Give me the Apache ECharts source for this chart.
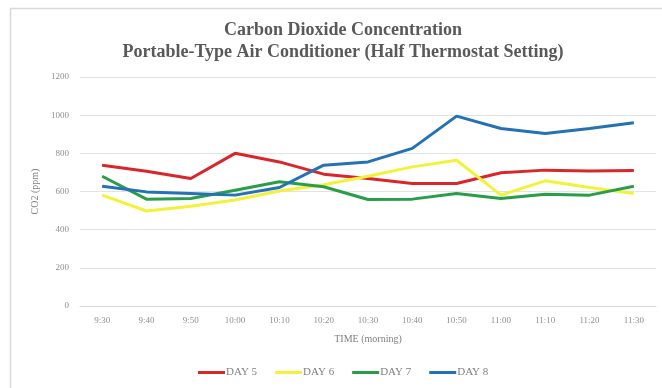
<!DOCTYPE html>
<html>
<head>
<meta charset="utf-8">
<script src="https://cdn.jsdelivr.net/npm/echarts@6/dist/echarts.min.js"></script>
<style>
  html, body { margin: 0; padding: 0; background: #fff; }
  #main { width: 662px; height: 388px; }
</style>
</head>
<body>
<div id="main"></div>
<script>
const times = ['9:30', '9:40', '9:50', '10:00', '10:10', '10:20', '10:30', '10:40', '10:50', '11:00', '11:10', '11:20', '11:30'];
const day5 = [738, 706, 668, 800, 755, 691, 668, 642, 642, 698, 712, 707, 710];
const day6 = [581, 498, 523, 555, 603, 635, 680, 729, 764, 581, 656, 621, 590];
const day7 = [680, 560, 563, 607, 651, 625, 558, 560, 590, 563, 586, 581, 628];
const day8 = [628, 598, 590, 581, 621, 738, 755, 826, 995, 930, 904, 930, 960];

const serif = '"Liberation Serif", "DejaVu Serif", serif';
const chart = echarts.init(document.getElementById('main'));

const mk = (name, data, color) => ({
    name: name,
    type: 'line',
    data: data,
    symbol: 'none',
    lineStyle: { width: 3, color: color },
    itemStyle: { color: color }
});

chart.setOption({
    animation: false,
    graphic: [{
        type: 'rect',
        shape: { x: 10.5, y: 8.5, width: 700, height: 400 },
        style: { fill: 'none', stroke: '#d9d9d9', lineWidth: 1.5 },
        silent: true
    }],
    title: {
        text: 'Carbon Dioxide Concentration\nPortable-Type Air Conditioner (Half Thermostat Setting)',
        left: 338,
        textAlign: 'center',
        top: 14,
        textStyle: {
            fontFamily: serif,
            fontSize: 18,
            fontWeight: 'bold',
            color: '#595959',
            lineHeight: 22
        }
    },
    legend: {
        bottom: 5,
        left: 193,
        icon: 'rect',
        itemWidth: 27,
        itemHeight: 3,
        itemGap: 18,
        textStyle: { fontFamily: serif, fontSize: 11, color: '#808080', padding: [0, 0, 0, -4] }
    },
    grid: { left: 80, right: 6, top: 77, bottom: 82 },
    xAxis: {
        type: 'category',
        data: times,
        boundaryGap: true,
        name: 'TIME (morning)',
        nameLocation: 'middle',
        nameGap: 28,
        nameTextStyle: { fontFamily: serif, fontSize: 10, color: '#808080' },
        axisLine: { lineStyle: { color: '#d9d9d9' } },
        axisTick: { show: false },
        axisLabel: { fontFamily: serif, fontSize: 9, color: '#909090', margin: 10 }
    },
    yAxis: {
        type: 'value',
        min: 0,
        max: 1200,
        interval: 200,
        name: 'CO2 (ppm)',
        nameLocation: 'middle',
        nameGap: 33,
        nameTextStyle: { fontFamily: serif, fontSize: 10, color: '#808080' },
        axisLine: { show: false },
        axisTick: { show: false },
        axisLabel: { fontFamily: serif, fontSize: 9, color: '#909090', margin: 11, formatter: v => String(v) },
        splitLine: { lineStyle: { color: '#e3e3e3', width: 1 } }
    },
    series: [
        mk('DAY 5', day5, '#d9262b'),
        mk('DAY 6', day6, '#f2f23a'),
        mk('DAY 7', day7, '#2a9d4a'),
        mk('DAY 8', day8, '#2471b3')
    ]
});
</script>
</body>
</html>
